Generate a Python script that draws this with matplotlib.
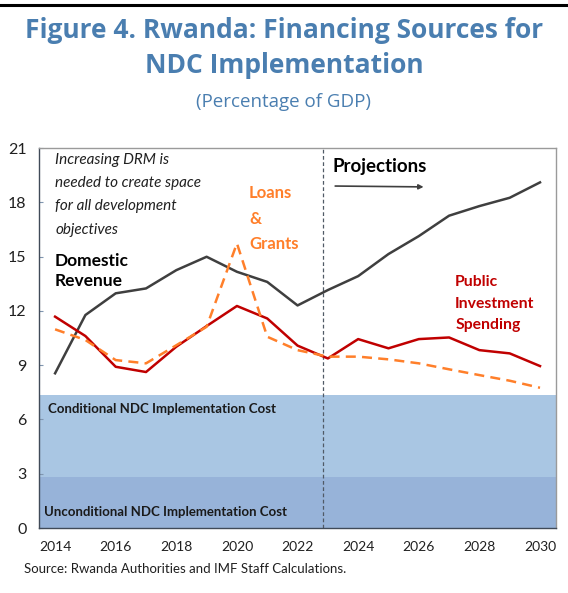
import numpy as np
import matplotlib.pyplot as plt

# ── Data (percentage of GDP) ──
years = list(range(2014, 2031))
domestic_revenue = [8.55, 11.77, 12.97, 13.24, 14.25, 14.99, 14.16, 13.6, 12.3,
                    13.15, 13.92, 15.14, 16.13, 17.26, 17.79, 18.25, 19.1]
public_investment = [11.68, 10.61, 8.91, 8.62, 10.02, 11.16, 12.27, 11.58, 10.08,
                     9.37, 10.44, 9.93, 10.44, 10.53, 9.83, 9.65, 8.95]
loans_grants = [10.98, 10.39, 9.28, 9.1, 10.1, 11.12, 15.73, 10.57, 9.83,
                9.47, 9.47, 9.32, 9.1, 8.77, 8.45, 8.14, 7.75]
unconditional_cost = 2.8
conditional_cost = 7.35
projection_start = 2022.85
y_ticks = [0, 3, 6, 9, 12, 15, 18, 21]
x_ticks = list(range(2014, 2031, 2))

TITLE_BLUE = "#4A7EB0"
GREY_LINE = "#3F3F3F"
RED = "#C00000"
ORANGE = "#FF7F2A"

plt.rcParams["font.family"] = ["Lato", "DejaVu Sans"]

fig = plt.figure(figsize=(5.68, 5.93), dpi=100)
ax = fig.add_axes([0.0687, 0.1096, 0.9103, 0.6408])

# cost bands
ax.axhspan(unconditional_cost, conditional_cost, color="#A9C6E3", lw=0, zorder=0)
ax.axhspan(0, unconditional_cost, color="#97B3D9", lw=0, zorder=0)

ax.plot(years, domestic_revenue, color=GREY_LINE, lw=1.8, zorder=3)
ax.plot(years, public_investment, color=RED, lw=1.8, zorder=3)
ax.plot(years, loans_grants, color=ORANGE, lw=1.8, ls=(0, (4, 2.5)), zorder=3)

ax.axvline(projection_start, color="#505a66", lw=0.9, ls=(0, (3, 2)), zorder=2)

ax.set_xlim(2013.47, 2030.53)
ax.set_ylim(0, 21)
ax.set_yticks(y_ticks)
ax.set_xticks(x_ticks)
ax.tick_params(axis="y", direction="in", length=3, color="#8096b0", labelsize=11.5,
               pad=9)
ax.tick_params(axis="x", length=0, labelsize=10, pad=9)
for t in ax.get_yticklabels() + ax.get_xticklabels():
    t.set_color("#202020")
for side in ["top", "right"]:
    ax.spines[side].set_color("#9a9a9a")
for side in ["left", "bottom"]:
    ax.spines[side].set_color("#404a58")
for s in ax.spines.values():
    s.set_linewidth(1.0)

# annotations
ax.text(2014.0, 20.75, "Increasing DRM is\nneeded to create space\nfor all development\nobjectives",
        style="italic", fontsize=11, color="#202020", va="top", ha="left", linespacing=1.85)
ax.text(2014.0, 14.2, "Domestic\nRevenue", fontweight="bold", fontsize=12.5,
        color="black", va="center", ha="left", linespacing=1.3)
ax.text(2020.4, 17.1, "Loans\n&\nGrants", fontweight="bold", fontsize=12,
        color=ORANGE, va="center", ha="left", linespacing=1.75)
ax.text(2023.15, 20.0, "Projections", fontweight="bold", fontsize=13.5,
        color="black", va="center", ha="left")
ax.annotate("", xy=(2026.25, 18.85), xytext=(2023.15, 18.9),
            arrowprops=dict(arrowstyle="-|>", color=GREY_LINE, lw=1.2,
                            mutation_scale=7))
ax.text(2027.2, 12.4, "Public\nInvestment\nSpending", fontweight="bold", fontsize=11.3,
        color=RED, va="center", ha="left", linespacing=1.65)
ax.text(2013.75, 6.6, "Conditional NDC Implementation Cost", fontweight="bold",
        fontsize=9.5, color="#1a1a1a", va="center", ha="left")
ax.text(2013.65, 0.9, "Unconditional NDC Implementation Cost", fontweight="bold",
        fontsize=9.5, color="#1a1a1a", va="center", ha="left")

# titles and source
fig.text(0.5, 0.972, "Figure 4. Rwanda: Financing Sources for\nNDC Implementation",
         family=["Open Sans", "DejaVu Sans"], fontweight="bold", fontsize=19,
         color=TITLE_BLUE, ha="center", va="top", linespacing=1.38)
fig.text(0.5, 0.828, "(Percentage of GDP)", family=["Open Sans", "DejaVu Sans"],
         fontsize=13.5, color=TITLE_BLUE, ha="center", va="center")
fig.text(0.042, 0.040, "Source: Rwanda Authorities and IMF Staff Calculations.",
         fontsize=9.5, color="#202020", ha="left", va="center")

fig.add_artist(plt.Line2D([0, 1], [1 - 5 / 593, 1 - 5 / 593], color="black", lw=2.2))

fig.savefig("out.png", dpi=100)
